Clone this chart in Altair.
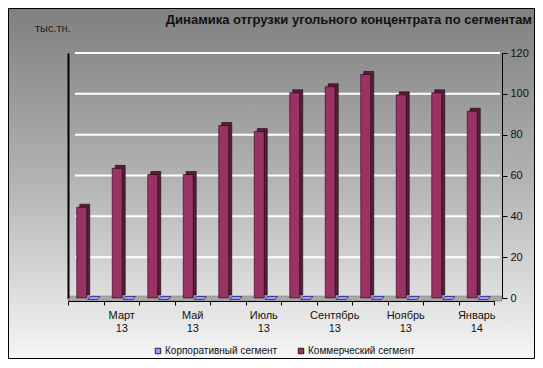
import altair as alt
import pandas as pd

# ---------------- data ----------------
months = ["Февраль 13", "Март 13", "Апрель 13", "Май 13", "Июнь 13", "Июль 13",
          "Август 13", "Сентябрь 13", "Октябрь 13", "Ноябрь 13", "Декабрь 13", "Январь 14"]
shown_labels = ["Март 13", "Май 13", "Июль 13", "Сентябрь 13", "Ноябрь 13", "Январь 14"]
series_names = ["Корпоративный сегмент", "Коммерческий сегмент"]
corporate = [0, 0, 0, 0, 0, 0, 0, 0, 0, 0, 0, 0]
commercial = [44.5, 63.5, 60.5, 60.5, 84.5, 81.5, 100.5, 103.5, 109.5, 99.5, 100.5, 91.5]
y_ticks = [0, 20, 40, 60, 80, 100, 120]
grid_values = [20, 40, 60, 80, 100, 120]
colors = ["#9999ff", "#993366"]
title_text = "Динамика отгрузки угольного концентрата по сегментам"
unit_text = "тыс.тн."

FONT = "Liberation Sans"

rows = []
for m, c, k in zip(months, corporate, commercial):
    rows.append({"month": m, "series": series_names[0], "value": c})
    rows.append({"month": m, "series": series_names[1], "value": k})
df = pd.DataFrame(rows)
grid_df = pd.DataFrame({"g": grid_values})
one = pd.DataFrame({"a": [0]})

W, H = 426, 245
PAD = {"left": 60, "top": 45, "right": 41, "bottom": 61}

y_scale = alt.Scale(domain=[0, 120], nice=False)
x_scale = alt.Scale(domain=months, paddingInner=0, paddingOuter=0)

label_list = "[" + ",".join("'" + s + "'" for s in shown_labels) + "]"

color_enc = alt.Color(
    "series:N",
    scale=alt.Scale(domain=series_names, range=colors),
    legend=alt.Legend(
        title=None, orient="none", direction="horizontal",
        legendX=85, legendY=293, symbolType="square", symbolSize=30,
        symbolStrokeColor="#000000", symbolStrokeWidth=0.8,
        labelFont=FONT, labelFontSize=10, labelColor="#111111",
        labelOffset=2, columnPadding=18, zindex=1,
    ),
)

x_axis = alt.Axis(
    title=None, orient="bottom", offset=3, domainColor="#000000", domainWidth=1,
    tickColor="#000000", tickSize=4, tickBand="extent", labelAngle=0,
    labelFont=FONT, labelFontSize=11, labelColor="#111111", labelPadding=4,
    labelLineHeight=13, labelOverlap=False,
    labelExpr="indexof(" + label_list + ", datum.value) >= 0 ? split(datum.value, ' ') : ''",
    zindex=1,
)

y_axis = alt.Axis(
    title=None, orient="right", offset=8, values=y_ticks, grid=False,
    domainColor="#000000", tickColor="#000000", tickSize=5, labelPadding=3,
    labelFont=FONT, labelFontSize=11, labelColor="#111111", zindex=1,
)

x_enc = alt.X("month:N", scale=x_scale, sort=months, axis=x_axis)

# background gradient (whole canvas)
background = alt.Chart(one).mark_rect(
    fill=alt.Gradient(
        gradient="linear", x1=0, y1=0, x2=0, y2=1,
        stops=[alt.GradientStop(offset=0, color="#808080"),
               alt.GradientStop(offset=0.5, color="#b4b4b4"),
               alt.GradientStop(offset=1, color="#f6f6f6")],
    ),
    stroke="#000000", strokeWidth=1,
).encode(
    x=alt.value(-PAD["left"] + 0.5), x2=alt.value(W + PAD["right"] - 0.5),
    y=alt.value(-PAD["top"] + 0.5), y2=alt.value(H + PAD["bottom"] - 0.5),
)

# floor
floor = alt.Chart(one).mark_rect(fill="#a8a8a8", stroke="#777777", strokeWidth=0.5).encode(
    x=alt.value(0), x2=alt.value(434), y=alt.value(H - 2), y2=alt.value(H + 3)
)

# gridlines + left wall edge
grid = alt.Chart(grid_df).mark_rule(color="#ffffff", strokeWidth=2).encode(
    y=alt.Y("g:Q", scale=y_scale,
            axis=alt.Axis(orient="left", labels=False, ticks=False, grid=False,
                          domainColor="#000000", domainWidth=2, title=None, zindex=1)),
    x=alt.value(7), x2=alt.value(432),
)

base = alt.Chart(df)

side = base.transform_filter(alt.datum.series == series_names[1]).mark_bar(
    size=10, xOffset=-1, yOffset=-3, y2Offset=-3, fill="#5a1c3b",
    stroke="#1a0010", strokeWidth=0.6,
).encode(
    x=x_enc,
    y=alt.Y("value:Q", scale=y_scale, axis=y_axis),
)

front = base.transform_filter(alt.datum.series == series_names[1]).mark_bar(
    size=10, xOffset=-4, stroke="#1a0010", strokeWidth=0.6,
).encode(
    x=x_enc,
    y=alt.Y("value:Q", scale=y_scale, axis=None),
    color=color_enc,
)

flat = base.transform_filter(alt.datum.series == series_names[0]).mark_point(
    shape="M-1,0.25L0.6,0.25L1,-0.25L-0.6,-0.25Z", size=150, filled=True,
    opacity=1, xOffset=8, stroke="#000066", strokeWidth=0.6,
).encode(
    x=x_enc,
    y=alt.Y("value:Q", scale=y_scale, axis=None),
    color=color_enc,
)

title = alt.Chart(one).mark_text(
    text=title_text, align="right", baseline="alphabetic", font=FONT,
    fontSize=13, fontWeight="bold", color="#111111",
).encode(x=alt.value(W + PAD["right"] - 3), y=alt.value(-29))

unit = alt.Chart(one).mark_text(
    text=unit_text, align="left", baseline="alphabetic", font=FONT,
    fontSize=11, color="#222222",
).encode(x=alt.value(-33), y=alt.value(-21))

chart = alt.layer(background, floor, grid, side, front, flat, title, unit).resolve_scale(
    y="shared", x="shared"
).resolve_axis(y="independent").properties(
    width=W, height=H, padding=PAD, autosize=alt.AutoSizeParams(type="none"),
    background="#ffffff",
).configure_view(stroke="transparent")

chart.save("out.html", embed_options={"renderer": "svg", "actions": False})
